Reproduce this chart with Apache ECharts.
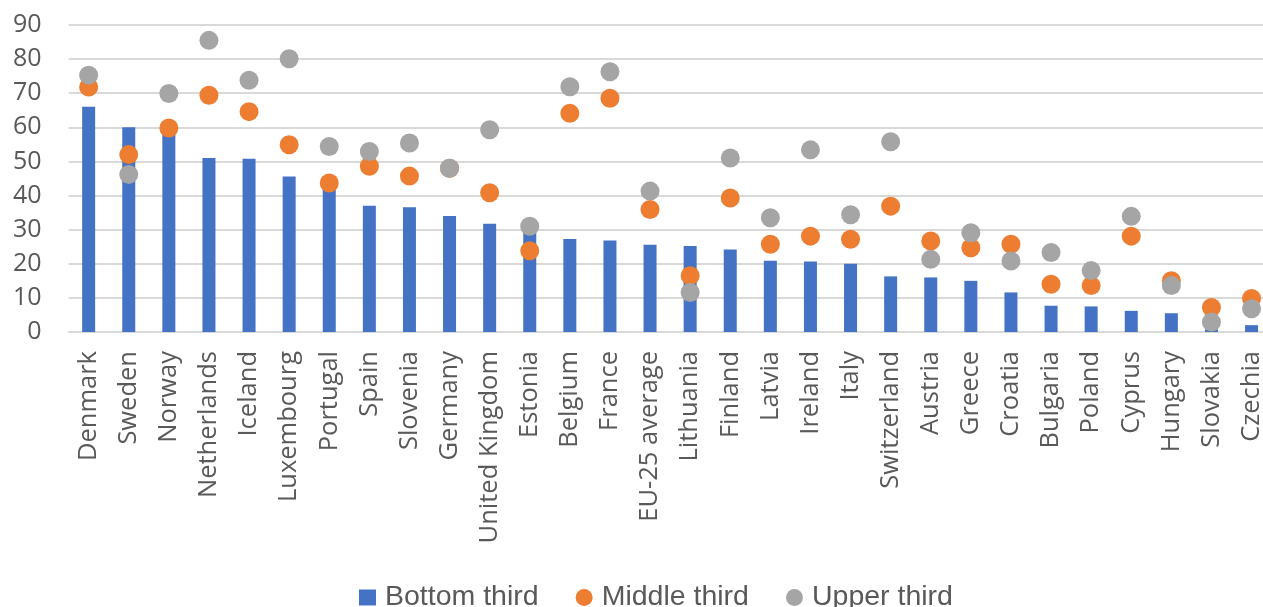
<!DOCTYPE html>
<html>
<head>
<meta charset="utf-8">
<script src="https://cdn.jsdelivr.net/npm/echarts@6/dist/echarts.min.js"></script>
<style>
html,body{margin:0;padding:0;background:#fff;overflow:hidden;width:1263px;height:607px;}
#chart{width:1272px;height:607px;}
</style>
</head>
<body>
<div id="chart"></div>
<script>
const categories = ["Denmark","Sweden","Norway","Netherlands","Iceland","Luxembourg","Portugal","Spain","Slovenia","Germany","United Kingdom","Estonia","Belgium","France","EU-25 average","Lithuania","Finland","Latvia","Ireland","Italy","Switzerland","Austria","Greece","Croatia","Bulgaria","Poland","Cyprus","Hungary","Slovakia","Czechia"];
const bottomThird = [66, 60, 58, 51, 50.8, 45.6, 42, 37, 36.6, 34, 31.7, 29.5, 27.3, 26.8, 25.6, 25.2, 24.2, 20.9, 20.7, 20, 16.3, 16, 15, 11.6, 7.7, 7.5, 6.2, 5.5, 0.8, 2];
const middleThird = [71.8, 52, 59.8, 69.4, 64.6, 54.9, 43.7, 48.6, 45.7, 48, 40.8, 23.8, 64.1, 68.5, 35.9, 16.5, 39.3, 25.7, 28.1, 27.2, 36.9, 26.7, 24.7, 25.7, 14.0, 13.6, 28.1, 15.0, 7.2, 9.8];
const upperThird = [75.3, 46.2, 69.9, 85.5, 73.8, 80.1, 54.4, 52.9, 55.4, 48.0, 59.3, 31.0, 71.9, 76.3, 41.3, 11.6, 51.0, 33.5, 53.4, 34.4, 55.8, 21.3, 29.1, 20.8, 23.3, 18.0, 33.9, 13.6, 2.9, 6.8];
const yTicks = {min: 0, max: 90, interval: 10};

const chart = echarts.init(document.getElementById('chart'), null, {renderer: 'canvas'});
const txt = '#595959';
chart.setOption({
  animation: false,
  backgroundColor: '#ffffff',
  grid: {left: 68.6, right: 0.4, top: 25, bottom: 275, containLabel: false},
  legend: {
    left: 354, top: 578,
    itemWidth: 17, itemHeight: 17, itemGap: 37,
    symbolKeepAspect: true,
    textStyle: {fontFamily: 'Liberation Sans', fontSize: 28.5, color: txt, padding: [0,0,0,4]},
    data: [
      {name: 'Bottom third', icon: 'path://M0,0H16V15H0Z'},
      {name: 'Middle third', icon: 'circle'},
      {name: 'Upper third', icon: 'circle'}
    ]
  },
  xAxis: {
    type: 'category',
    data: categories,
    axisLine: {lineStyle: {color: '#d9d9d9', width: 2}},
    axisTick: {show: false},
    axisLabel: {rotate: 90, interval: 0, margin: 19, color: txt, fontFamily: 'Open Sans', fontSize: 25.5}
  },
  yAxis: {
    type: 'value',
    min: yTicks.min, max: yTicks.max, interval: yTicks.interval,
    axisLine: {show: false},
    axisTick: {show: false},
    splitLine: {lineStyle: {color: '#d9d9d9', width: 2}},
    axisLabel: {margin: 27, color: txt, fontFamily: 'Open Sans', fontSize: 25}
  },
  series: [
    {name: 'Bottom third', type: 'bar', data: bottomThird, barWidth: 13, itemStyle: {color: '#4472C4'}, z: 2},
    {name: 'Middle third', type: 'scatter', data: middleThird, symbol: 'circle', symbolSize: 19, itemStyle: {color: '#ED7D31', opacity: 1}, z: 3},
    {name: 'Upper third', type: 'scatter', data: upperThird, symbol: 'circle', symbolSize: 19, itemStyle: {color: '#A5A5A5', opacity: 1}, z: 4}
  ]
});
</script>
</body>
</html>
